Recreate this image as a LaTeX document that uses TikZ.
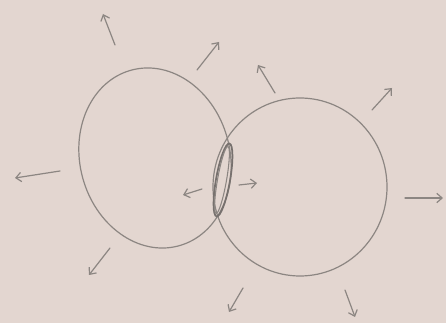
\documentclass[tikz,border=0pt]{standalone}
\usetikzlibrary{arrows.meta}
\definecolor{paper}{HTML}{E3D6D0}
\definecolor{pencil}{HTML}{8C8682}
\definecolor{pencildark}{HTML}{77716E}
\tikzset{
  sketch/.style={draw=pencil, line width=0.9pt, line cap=round, line join=round},
  ring/.style={draw=pencildark, line width=1.3pt},
  outarrow/.style={draw=pencil, line width=0.9pt, line cap=round, -{Straight Barb[length=4pt,width=7pt]}}
}
\begin{document}
\begin{tikzpicture}[x=0.75pt,y=-0.75pt]
\fill[paper] (0,0) rectangle (446,323);
\useasboundingbox (0,0) rectangle (446,323);
% left blob
\draw[sketch] (155,158) ellipse [x radius=75, y radius=91, rotate=15];
% right blob
\draw[sketch] (300,187) ellipse [x radius=87, y radius=89];
% ring at junction
\draw[ring] (223,180) ellipse [x radius=7, y radius=37, rotate=-10];
\draw[draw=pencil, line width=0.8pt] (222,180) ellipse [x radius=4.5, y radius=34, rotate=-10];
% arrows
\coordinate (a1s) at (115,45); \coordinate (a1e) at (103,14);
\coordinate (a2s) at (197,70); \coordinate (a2e) at (219,42);
\coordinate (a3s) at (275,93); \coordinate (a3e) at (258,65);
\coordinate (a4s) at (372,110); \coordinate (a4e) at (392,88);
\coordinate (a5s) at (60,171); \coordinate (a5e) at (15,178);
\coordinate (a6s) at (202,189); \coordinate (a6e) at (183,195);
\coordinate (a7s) at (239,185); \coordinate (a7e) at (257,183);
\coordinate (a8s) at (405,198); \coordinate (a8e) at (443,198);
\coordinate (a9s) at (110,248); \coordinate (a9e) at (89,275);
\coordinate (a10s) at (243,288); \coordinate (a10e) at (229,312);
\coordinate (a11s) at (345,290); \coordinate (a11e) at (355,317);
\foreach \i in {1,...,11} \draw[outarrow] (a\i s) -- (a\i e);
\end{tikzpicture}
\end{document}
